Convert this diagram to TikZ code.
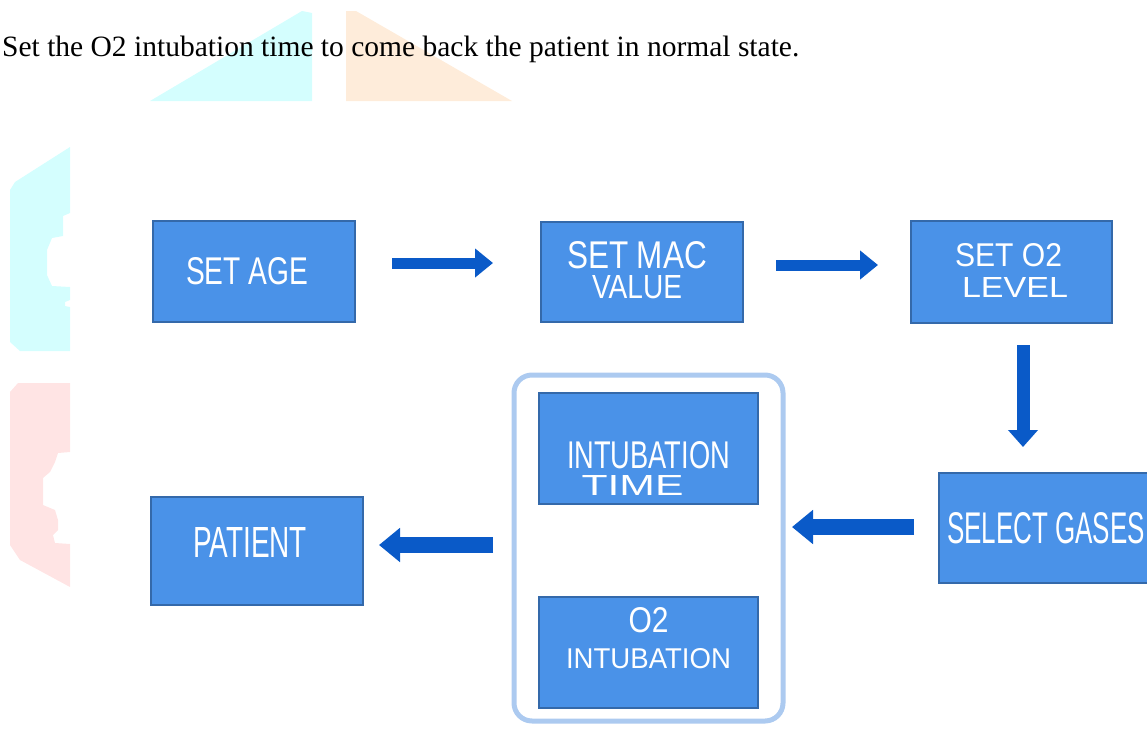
\documentclass[tikz,border=0pt]{standalone}
\usepackage{fontspec}
\setmainfont{Liberation Serif}
\newfontfamily\boxfont{Liberation Sans}
\usetikzlibrary{arrows.meta}
\definecolor{boxfill}{RGB}{74,146,232}
\definecolor{boxedge}{RGB}{52,105,170}
\definecolor{arrowblue}{RGB}{10,90,200}
\definecolor{groupedge}{RGB}{172,202,240}
\definecolor{wmcyan}{RGB}{212,254,254}
\definecolor{wmpeach}{RGB}{254,236,218}
\definecolor{wmpink}{RGB}{255,228,228}
% one line of box text: width, cap height, text
\newcommand\tl[3]{\resizebox{#1pt}{#2pt}{\boxfont\fontsize{40}{40}\selectfont #3}}
% two stacked lines with a gap
\newcommand\twol[3]{\vbox{\offinterlineskip\halign{\hfil##\hfil\cr #1\cr\noalign{\kern#2}#3\cr}}}
% offset text inside a box: 2*dx, dy (up), content
\newcommand\off[3]{\makebox[0pt]{\hspace*{#1}\raisebox{\dimexpr #2-0.5\height\relax}[0pt][0pt]{#3}}}
\tikzset{
  flowbox/.style={draw=boxedge, line width=1.2pt, fill=boxfill, text=white,
    inner sep=0pt, outer sep=0pt},
  groupbox/.style={draw=groupedge, line width=5pt, rounded corners=18pt,
    inner sep=0pt, outer sep=0pt},
  thinarrow/.style={draw=arrowblue, line width=11pt,
    -{Triangle[length=18pt,width=28pt]}, arrowblue},
  vertarrow/.style={draw=arrowblue, line width=13pt,
    -{Triangle[length=17pt,width=29pt]}, arrowblue},
  thickarrow/.style={draw=arrowblue, line width=16.5pt,
    -{Triangle[length=21pt,width=33pt]}, arrowblue},
}
\begin{document}
\begin{tikzpicture}[x=1pt,y=-1pt]
\useasboundingbox (0,0) rectangle (1147,728);
\clip (0,0) rectangle (1147,728);
% background watermark shapes
\fill[wmcyan] (150,101) -- (312,101) -- (312,13) -- (302,11) -- cycle;
\fill[wmpeach] (346,101) -- (512,101) -- (356,11) -- (346,11) -- cycle;
\fill[wmcyan] (10,190) -- (15,182) -- (70,147) -- (70,213) -- (63,216) -- (63,236)
  -- (52,238) -- (47,250) -- (47,275) -- (52,286) -- (70,287) -- (70,300)
  -- (65,302) -- (65,306) -- (70,307) -- (70,351) -- (20,351) -- (10,342) -- cycle;
\fill[wmpink] (10,392) -- (18,383) -- (70,383) -- (70,452) -- (58,453) -- (55,462)
  -- (50,472) -- (43,478) -- (43,505) -- (55,510) -- (58,520) -- (58,530)
  -- (53,535) -- (55,543) -- (70,544) -- (70,587) -- (20,560) -- (10,545) -- cycle;
% caption line
\node[anchor=base west, inner sep=0pt] (caption) at (2,56)
  {\fontsize{29.5}{32}\selectfont Set the O2 intubation time to come back the patient in normal state.};
% boxes
\node[flowbox, minimum width=202pt, minimum height=101pt] (age) at (254,271.5)
  {\off{-14pt}{1pt}{\tl{122}{27}{SET AGE}}};
\node[flowbox, minimum width=202pt, minimum height=100pt] (mac) at (642,272)
  {\off{-10pt}{2pt}{\twol{\tl{140}{27}{SET MAC}}{6pt}{\tl{90}{23}{VALUE}}}};
\node[flowbox, minimum width=201pt, minimum height=102pt] (o2) at (1011.5,272)
  {\off{-6pt}{1.5pt}{\twol{\tl{107}{23}{SET O2}}{11pt}{\hspace*{13pt}\tl{106}{20}{LEVEL}}}};
\node[flowbox, minimum width=214pt, minimum height=110pt] (gases) at (1046,528)
  {\off{0pt}{0.5pt}{\tl{198}{31}{SELECT GASES}}};
\node[groupbox, minimum width=269pt, minimum height=346pt] (group) at (648.5,548) {};
\node[flowbox, minimum width=219pt, minimum height=111pt] (itime) at (648.5,448.5)
  {\off{0pt}{-20pt}{\twol{\tl{163}{27}{INTUBATION}}{7pt}{\tl{102}{20}{TIME}\hspace*{32pt}}}};
\node[flowbox, minimum width=219pt, minimum height=111pt] (o2int) at (648.5,652.5)
  {\off{0pt}{14.5pt}{\twol{\tl{40}{25}{O2}}{15pt}{\tl{165}{20}{INTUBATION}}}};
\node[flowbox, minimum width=212pt, minimum height=108pt] (patient) at (257,551)
  {\off{-14pt}{9pt}{\tl{114}{30}{PATIENT}}};
% connectors
\draw[thinarrow, shorten <=37pt, shorten >=48pt]
  ([yshift=8.5pt]age.east) -- ([yshift=8.5pt]age.east -| mac.west);
\draw[thinarrow, shorten <=33pt, shorten >=33pt]
  ([yshift=7pt]mac.east) -- ([yshift=7pt]mac.east -| o2.west);
\draw[vertarrow, shorten <=22pt, shorten >=26pt]
  ([xshift=11.5pt]o2.south) -- ([xshift=11.5pt]o2.south |- gases.north);
\draw[thickarrow, shorten <=25pt, shorten >=9pt]
  ([yshift=1pt]gases.west) -- ([yshift=1pt]gases.west -| group.east);
\draw[thickarrow, shorten <=21pt, shorten >=16pt]
  ([yshift=3pt]group.west) -- ([yshift=3pt]group.west -| patient.east);
\end{tikzpicture}
\end{document}
